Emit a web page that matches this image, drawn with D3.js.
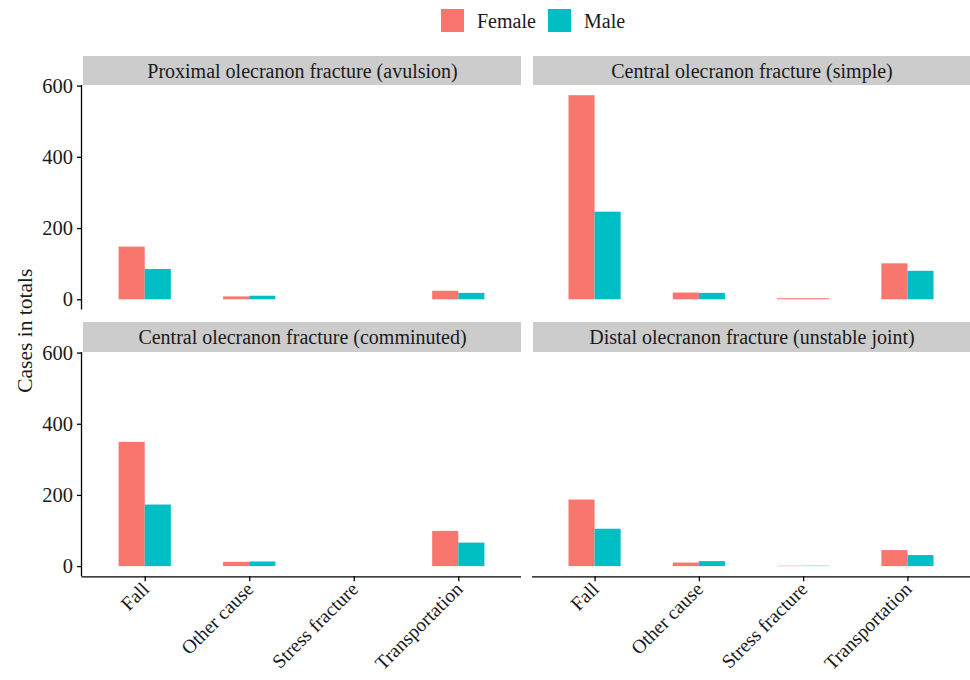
<!DOCTYPE html>
<html lang="en">
<head>
    <meta charset="UTF-8">
    <title>Olecranon fractures by cause and sex</title>
    <script src="https://d3js.org/d3.v7.min.js"></script>
    <style>
        body { margin: 0; background: #fff; }
        svg { display: block; font-family: "Liberation Serif", "Times New Roman", serif; }
    </style>
</head>
<body>
    <svg id="chart"></svg>

    <script>
        const width = 970, height = 680;

        // data
        const panels = [
            "Proximal olecranon fracture (avulsion)",
            "Central olecranon fracture (simple)",
            "Central olecranon fracture (comminuted)",
            "Distal olecranon fracture (unstable joint)"
        ];
        const causes = ["Fall", "Other cause", "Stress fracture", "Transportation"];
        const sexes = ["Female", "Male"];
        // null = no cases recorded for that group
        const female = [
            [148, 8, null, 24],
            [573, 19, 3, 101],
            [349, 12, null, 99],
            [187, 10, 1, 45]
        ];
        const male = [
            [85, 10, null, 18],
            [246, 18, null, 80],
            [173, 13, null, 66],
            [105, 14, 1, 31]
        ];
        const yTicks = [0, 200, 400, 600];

        const colors = { Female: "#F8766D", Male: "#00BFC4" };
        const textColor = "#1a1a1a";
        const serif = "'Liberation Serif', 'Times New Roman', serif";

        const svg = d3.select("#chart")
            .attr("width", width)
            .attr("height", height);

        // facet grid geometry
        const cols = [[82, 521], [532, 970]];
        const rows = [{ stripTop: 56, top: 85, bottom: 309.5 },
                      { stripTop: 322, top: 352, bottom: 576.3 }];

        const yMax = d3.max([...female.flat(), ...male.flat()]);
        const pad = yMax * 0.05;

        panels.forEach((title, i) => {
            const col = cols[i % 2], row = rows[Math.floor(i / 2)];
            const g = svg.append("g");

            // strip
            g.append("rect")
                .attr("x", col[0] + 1).attr("y", row.stripTop)
                .attr("width", col[1] - col[0] - 1).attr("height", row.top - row.stripTop)
                .attr("fill", "#cccccc");
            g.append("text")
                .attr("x", (col[0] + col[1]) / 2 + 1)
                .attr("y", (row.stripTop + row.top) / 2)
                .attr("dy", "0.35em")
                .attr("text-anchor", "middle")
                .attr("fill", textColor)
                .style("font-size", "20px")
                .text(title);

            const x = d3.scalePoint()
                .domain(causes)
                .range([col[0], col[1]])
                .padding(0.6);
            const step = x.step();

            const y = d3.scaleLinear()
                .domain([-pad, yMax + pad])
                .range([row.bottom, row.top]);

            // bars, dodged (full width if only one sex present)
            causes.forEach((c, j) => {
                const vals = [female[i][j], male[i][j]];
                const present = sexes.filter((s, k) => vals[k] != null);
                const w = 0.5 * step / present.length;
                const x0 = x(c) - 0.25 * step;
                present.forEach((s, k) => {
                    const v = vals[sexes.indexOf(s)];
                    g.append("rect")
                        .attr("x", x0 + k * w)
                        .attr("y", y(v))
                        .attr("width", w)
                        .attr("height", y(0) - y(v))
                        .attr("fill", colors[s]);
                });
            });

            // y axis on left column only
            if (i % 2 === 0) {
                const ya = g.append("g")
                    .attr("transform", `translate(${col[0]},0)`)
                    .call(d3.axisLeft(y).tickValues(yTicks).tickSize(5).tickPadding(4));
                ya.select(".domain").attr("d", `M-0.5,${row.top}V${row.bottom}`).attr("stroke", "#000").attr("stroke-width", 1.3);
                ya.selectAll(".tick line").attr("stroke", "#000").attr("stroke-width", 1.3);
                ya.selectAll(".tick text")
                    .attr("fill", textColor)
                    .style("font-size", "20.5px")
                    .style("font-family", serif);
            }

            // x axis on bottom row only
            if (i >= 2) {
                const xa = g.append("g")
                    .attr("transform", `translate(0,${row.bottom})`)
                    .call(d3.axisBottom(x).tickSize(5).tickPadding(0));
                xa.select(".domain").attr("d", `M${col[0] - (i % 2 === 0 ? 0.5 : 0)},0.5H${col[1]}`).attr("stroke", "#000").attr("stroke-width", 1.3);
                xa.selectAll(".tick line").attr("stroke", "#000").attr("stroke-width", 1.3);
                xa.selectAll(".tick text")
                    .attr("fill", textColor)
                    .style("font-size", "19.5px")
                    .style("font-family", serif)
                    .attr("text-anchor", "end")
                    .attr("y", 0)
                    .attr("dy", 0)
                    .attr("transform", "translate(5,14) rotate(-45)");
            }
        });

        // y axis title
        svg.append("text")
            .attr("transform", `translate(32,${(rows[0].top + rows[1].bottom) / 2}) rotate(-90)`)
            .attr("text-anchor", "middle")
            .attr("fill", textColor)
            .style("font-size", "21.5px")
            .text("Cases in totals");

        // legend
        const legend = svg.append("g").attr("transform", "translate(441,9)");
        const legendX = [0, 107];
        sexes.forEach((s, k) => {
            const lg = legend.append("g").attr("transform", `translate(${legendX[k]},0)`);
            lg.append("rect")
                .attr("width", 23).attr("height", 23)
                .attr("fill", colors[s]);
            lg.append("text")
                .attr("x", 36).attr("y", 11.5)
                .attr("dy", "0.35em")
                .attr("fill", textColor)
                .style("font-size", "20px")
                .text(s);
        });
    </script>
</body>
</html>
